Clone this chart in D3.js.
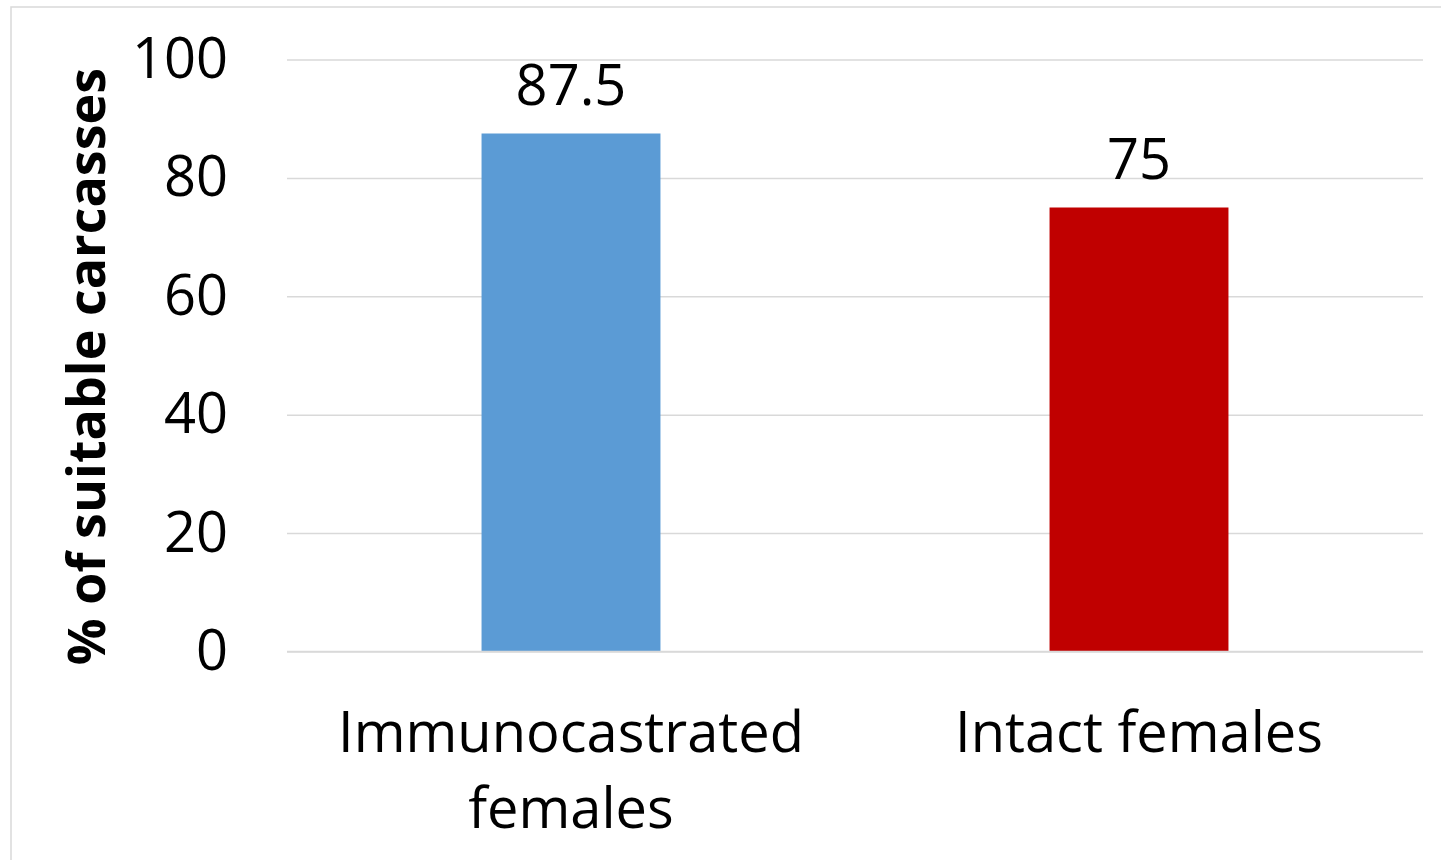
<!DOCTYPE html>
<html>
<head>
<meta charset="utf-8">
<script src="https://cdn.jsdelivr.net/npm/d3@7"></script>
<style>
  html, body { margin: 0; padding: 0; background: #fff; }
  svg { display: block; }
  text { font-family: "Open Sans", Lato, sans-serif; fill: #000; }
</style>
</head>
<body>
<svg id="chart" width="1441" height="860"></svg>
<script>
const categories = [["Immunocastrated", "females"], ["Intact females"]];
const values = [87.5, 75];
const colors = ["#5b9bd5", "#c00000"];
const yTicks = [0, 20, 40, 60, 80, 100];
const yTitle = "% of suitable carcasses";

(function () {
const svg = d3.select("#chart");
const W = 1441, H = 860;
const pLeft = 287, pRight = 1423, pTop = 59.5, pBottom = 651.5;
const FS = 56;

svg.append("rect")
  .attr("x", 11).attr("y", 7).attr("width", W).attr("height", H)
  .attr("fill", "none").attr("stroke", "#d9d9d9").attr("stroke-width", 1.5);

const x = d3.scaleBand()
  .domain(d3.range(values.length))
  .range([pLeft, pRight])
  .paddingInner(0.685)
  .paddingOuter(0.3425);

const y = d3.scaleLinear().domain([0, 100]).range([pBottom, pTop]);

const yAxis = d3.axisLeft(y).tickValues(yTicks).tickSize(-(pRight - pLeft)).tickPadding(60);
const gy = svg.append("g").attr("transform", `translate(${pLeft},0)`).call(yAxis);
gy.select(".domain").remove();
gy.selectAll(".tick line").attr("stroke", "#d9d9d9").attr("stroke-width", 1.5);
gy.selectAll(".tick text")
  .attr("x", 228 - pLeft)
  .attr("font-size", FS)
  .attr("font-family", "'Open Sans', Lato, sans-serif")
  .attr("fill", "#000");

svg.selectAll("rect.bar")
  .data(values)
  .join("rect")
  .attr("class", "bar")
  .attr("x", (d, i) => x(i))
  .attr("width", x.bandwidth())
  .attr("y", d => y(d))
  .attr("height", d => y(0) - y(d))
  .attr("fill", (d, i) => colors[i]);

svg.append("line")
  .attr("x1", pLeft).attr("x2", pRight)
  .attr("y1", y(0)).attr("y2", y(0))
  .attr("stroke", "#d9d9d9").attr("stroke-width", 1.5);

svg.selectAll("text.dl")
  .data(values)
  .join("text")
  .attr("class", "dl")
  .attr("x", (d, i) => x(i) + x.bandwidth() / 2)
  .attr("y", d => y(d) - 29)
  .attr("text-anchor", "middle")
  .attr("font-size", FS)
  .text(d => d);

categories.forEach((lines, i) => {
  const cx = x(i) + x.bandwidth() / 2;
  const t = svg.append("text")
    .attr("text-anchor", "middle")
    .attr("font-size", FS)
    .attr("x", cx)
    .attr("y", 752);
  lines.forEach((ln, j) => {
    t.append("tspan")
      .attr("x", cx)
      .attr("dy", j === 0 ? 0 : 76)
      .text(ln);
  });
});

svg.append("text")
  .attr("transform", `translate(105, ${(68 + 665) / 2}) rotate(-90)`)
  .attr("text-anchor", "middle")
  .attr("font-size", 52)
  .attr("font-weight", "bold")
  .text(yTitle);
})();
</script>
</body>
</html>
